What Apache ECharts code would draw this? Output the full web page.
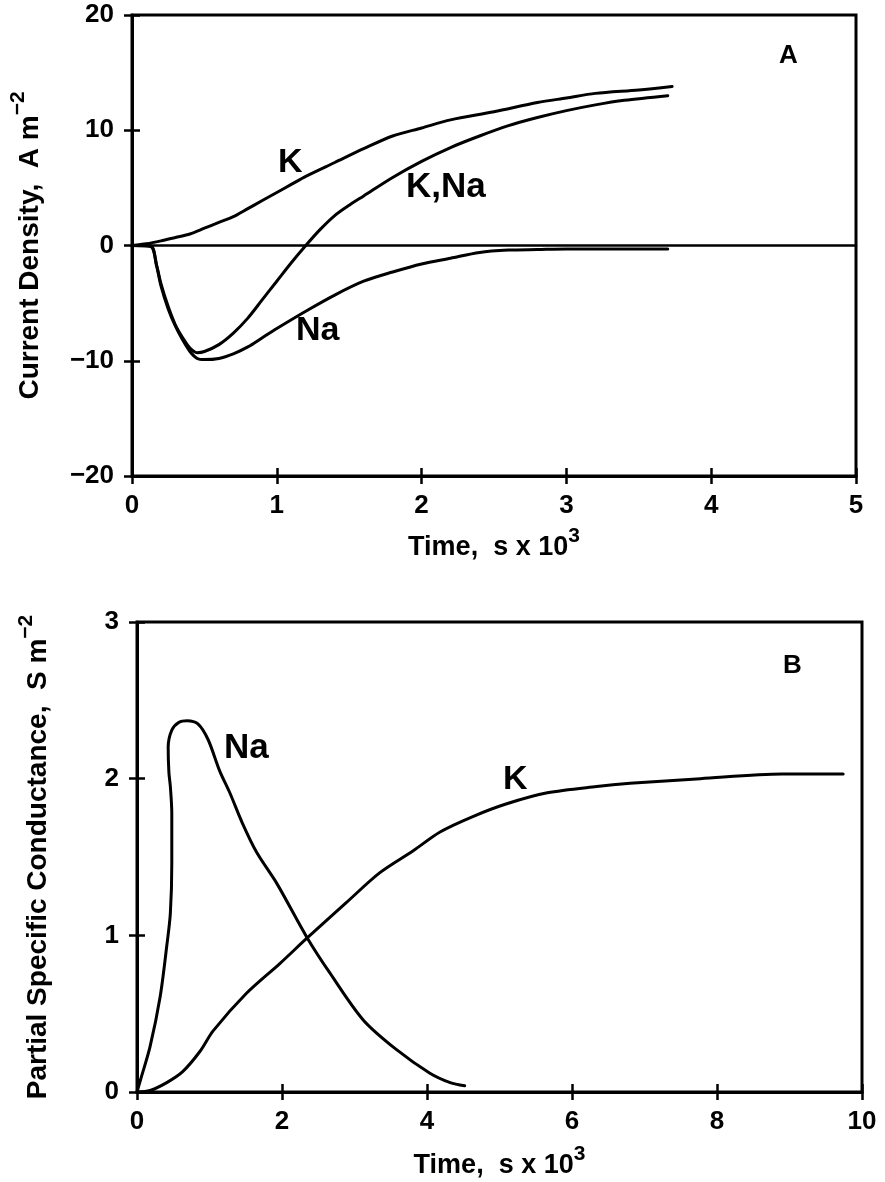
<!DOCTYPE html>
<html>
<head>
<meta charset="utf-8">
<script src="https://cdn.jsdelivr.net/npm/echarts@6/dist/echarts.min.js"></script>
<style>
html,body{margin:0;padding:0;background:#fff;}
#chart{width:885px;height:1182px;}
</style>
</head>
<body>
<div id="chart"></div>
<script>
// ---------- Panel A: current density (A m^-2) vs time (s x 10^3) ----------
const aKTime  = [0, 0.1, 0.2, 0.3, 0.4, 0.5, 0.6, 0.7, 0.8, 0.9, 1.0, 1.1, 1.2, 1.4, 1.6, 1.8, 2.0, 2.2, 2.5, 2.8, 3.0, 3.2, 3.5, 3.73];
const aKVal   = [0, 0.15, 0.4, 0.7, 1.0, 1.5, 2.0, 2.5, 3.2, 3.9, 4.6, 5.3, 6.0, 7.2, 8.4, 9.5, 10.2, 10.9, 11.6, 12.4, 12.8, 13.2, 13.5, 13.8];

const aNaTime = [0, 0.13, 0.17, 0.2, 0.25, 0.3, 0.35, 0.4, 0.45, 0.5, 0.6, 0.7, 0.8, 0.9, 1.0, 1.2, 1.4, 1.6, 1.8, 2.0, 2.2, 2.4, 2.6, 2.8, 3.0, 3.3, 3.7];
const aNaVal  = [0, -0.1, -1.8, -3.5, -5.5, -7.0, -8.2, -9.2, -9.8, -9.9, -9.8, -9.4, -8.8, -8.0, -7.2, -5.7, -4.3, -3.1, -2.3, -1.6, -1.1, -0.6, -0.4, -0.35, -0.3, -0.3, -0.3];

const aKNaTime = [0, 0.13, 0.17, 0.2, 0.25, 0.3, 0.35, 0.4, 0.45, 0.5, 0.6, 0.7, 0.8, 0.9, 1.0, 1.1, 1.2, 1.3, 1.4, 1.5, 1.6, 1.8, 2.0, 2.2, 2.4, 2.6, 2.8, 3.0, 3.2, 3.4, 3.7];
const aKNaVal  = [0, -0.05, -1.7, -3.3, -5.3, -6.9, -8.0, -8.9, -9.3, -9.2, -8.6, -7.6, -6.3, -4.7, -3.1, -1.5, 0, 1.4, 2.6, 3.5, 4.3, 5.9, 7.3, 8.5, 9.5, 10.4, 11.1, 11.7, 12.2, 12.6, 13.0];

const aZeroTime = [0, 5];
const aZeroVal  = [0, 0];

const aXTicks = [0, 1, 2, 3, 4, 5];
const aYTicks = [-20, -10, 0, 10, 20];

// ---------- Panel B: partial specific conductance (S m^-2) vs time ----------
const bNaTime = [0, 0.05, 0.18, 0.32, 0.41, 0.46, 0.48, 0.48, 0.46, 0.44, 0.43, 0.48, 0.58, 0.69, 0.84, 0.98, 1.14, 1.28, 1.45, 1.65, 1.93, 2.34, 2.66, 3.12, 3.58, 4.04, 4.32, 4.52];
const bNaVal  = [0, 0.08, 0.29, 0.61, 0.93, 1.14, 1.46, 1.78, 1.95, 2.04, 2.2, 2.31, 2.36, 2.37, 2.35, 2.25, 2.05, 1.91, 1.72, 1.53, 1.33, 0.99, 0.76, 0.46, 0.27, 0.12, 0.06, 0.04];

const bKTime = [0, 0.18, 0.41, 0.63, 0.87, 1.05, 1.51, 1.97, 2.34, 2.89, 3.35, 3.81, 4.18, 4.64, 5.1, 5.66, 6.34, 6.8, 7.77, 8.9, 9.3, 9.74];
const bKVal  = [0, 0.01, 0.06, 0.13, 0.26, 0.39, 0.63, 0.82, 0.98, 1.21, 1.40, 1.54, 1.66, 1.76, 1.84, 1.91, 1.95, 1.97, 2.0, 2.03, 2.03, 2.03];

const bXTicks = [0, 2, 4, 6, 8, 10];
const bYTicks = [0, 1, 2, 3];

// ---------- helpers ----------
const zip = (xs, ys) => xs.map((x, i) => [x, ys[i]]);
const FONT = '"Liberation Sans", Arial, Helvetica, sans-serif';
const INK = '#000';
const fmt = v => (v < 0 ? '\u2212' + (-v) : String(v));

function nameRich(size) {
  return {
    rich: {
      a: { fontFamily: FONT, fontWeight: 'bold', fontSize: size, color: INK, lineHeight: 44 },
      s: { fontFamily: FONT, fontWeight: 'bold', fontSize: 21, color: INK, lineHeight: 22, verticalAlign: 'top' }
    }
  };
}
function tickLabel(margin) {
  return { show: true, color: INK, fontFamily: FONT, fontWeight: 'bold', fontSize: 26, margin, formatter: fmt };
}

function mainAxis(gridIndex, ticks, extra) {
  return Object.assign({
    type: 'value', gridIndex,
    min: ticks[0], max: ticks[ticks.length - 1], interval: ticks[1] - ticks[0],
    axisLine: { show: true, onZero: false, lineStyle: { color: INK, width: 3 } },
    axisTick: { show: true, inside: false, length: 8, lineStyle: { color: INK, width: 2.5 } },
    splitLine: { show: false }
  }, extra);
}
function innerAxis(gridIndex, ticks, extra) {
  return Object.assign({
    type: 'value', gridIndex,
    min: ticks[0], max: ticks[ticks.length - 1], interval: ticks[1] - ticks[0],
    axisLine: { show: false, onZero: false },
    axisTick: { show: true, inside: true, length: 8, lineStyle: { color: INK, width: 2.5 } },
    axisLabel: { show: false },
    splitLine: { show: false }
  }, extra);
}
function curve(name, xs, ys, xi, yi, w) {
  return {
    name, type: 'line', xAxisIndex: xi, yAxisIndex: yi,
    data: zip(xs, ys), showSymbol: false, symbol: 'none', smooth: 0.3,
    lineStyle: { color: INK, width: w || 3, cap: 'round', join: 'round' },
    silent: true, z: 3
  };
}
function label(text, x, y, size) {
  return {
    type: 'text', left: x, top: y, z: 10,
    style: { text, fontFamily: FONT, fontWeight: 'bold', fontSize: size, fill: INK }
  };
}

const chart = echarts.init(document.getElementById('chart'), null, { renderer: 'canvas' });
chart.setOption({
  animation: false,
  backgroundColor: '#fff',
  grid: [
    { left: 131, top: 15, width: 725, height: 461, show: true, borderColor: INK, borderWidth: 3, backgroundColor: 'transparent' },
    { left: 137, top: 622, width: 725, height: 470, show: true, borderColor: INK, borderWidth: 3, backgroundColor: 'transparent' }
  ],
  xAxis: [
    mainAxis(0, aXTicks, { position: 'bottom', axisLabel: tickLabel(17),
      name: '{a|Time,  s x 10}{s|3}', nameLocation: 'middle', nameGap: 50, nameTextStyle: nameRich(27) }),
    innerAxis(0, aXTicks, { position: 'bottom' }),
    mainAxis(1, bXTicks, { position: 'bottom', axisLabel: tickLabel(17),
      name: '{a|Time,  s x 10}{s|3}', nameLocation: 'middle', nameGap: 52, nameTextStyle: nameRich(27) }),
    innerAxis(1, bXTicks, { position: 'bottom' })
  ],
  yAxis: [
    mainAxis(0, aYTicks, { position: 'left', axisLabel: tickLabel(18),
      name: '{a|Current Density,  A m}{s|\u22122}', nameLocation: 'middle', nameRotate: 90, nameGap: 80, nameTextStyle: nameRich(28) }),
    innerAxis(0, aYTicks, { position: 'left' }),
    mainAxis(1, bYTicks, { position: 'left', axisLabel: tickLabel(18),
      name: '{a|Partial Specific Conductance,  S m}{s|\u22122}', nameLocation: 'middle', nameRotate: 90, nameGap: 77, nameTextStyle: nameRich(28) }),
    innerAxis(1, bYTicks, { position: 'left' })
  ],
  series: [
    curve('zero', aZeroTime, aZeroVal, 0, 0, 2.5),
    curve('K', aKTime, aKVal, 0, 0),
    curve('Na', aNaTime, aNaVal, 0, 0),
    curve('K,Na', aKNaTime, aKNaVal, 0, 0),
    curve('Na (B)', bNaTime, bNaVal, 2, 2),
    curve('K (B)', bKTime, bKVal, 2, 2)
  ],
  graphic: [
    label('K', 278, 146, 34),
    label('K,Na', 406, 170, 35),
    label('Na', 296, 314, 34),
    label('A', 779, 43, 26),
    label('Na', 224, 731, 35),
    label('K', 503, 763, 34),
    label('B', 783, 653, 26)
  ]
});
</script>
</body>
</html>
